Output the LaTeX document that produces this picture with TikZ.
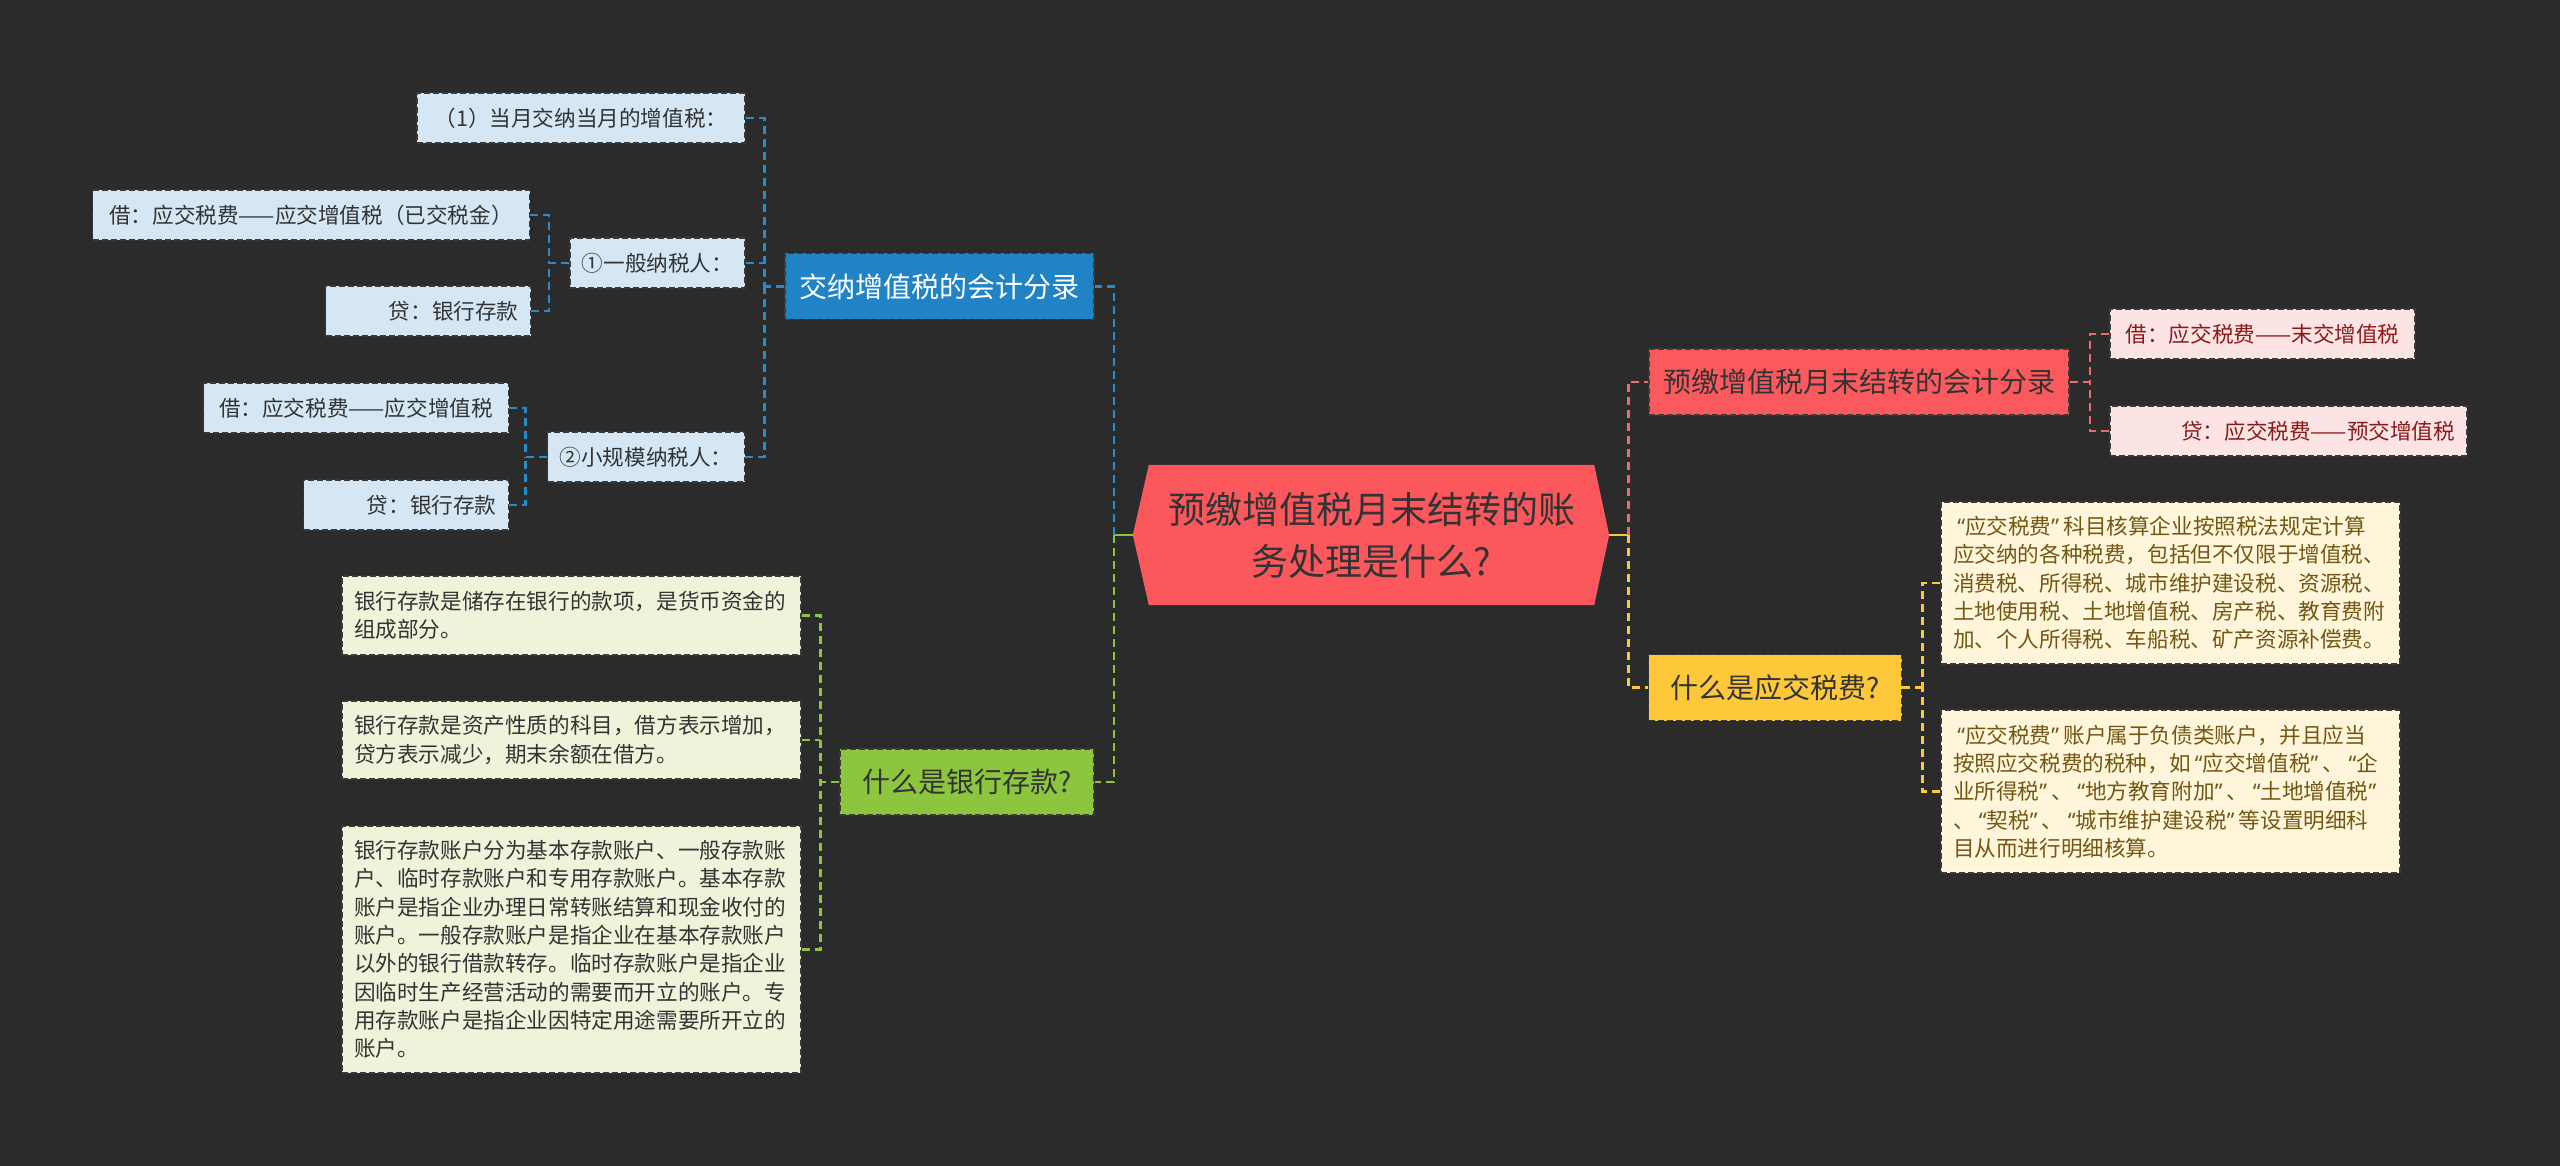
\documentclass[tikz,border=0pt]{standalone}
\usepackage{fontspec}
\newfontfamily\cjk{Noto Sans CJK SC}
\newfontfamily\quotefont{Noto Sans}
\newcommand{\lqt}{{\kern0.2em\quotefont “}}
\newcommand{\rqt}{{\quotefont ”\kern0.2em}}
\usetikzlibrary{calc,backgrounds}
\definecolor{bg}{HTML}{2B2B2B}
\definecolor{ink}{HTML}{333333}
\definecolor{rootred}{HTML}{FA585D}
\definecolor{blueM}{HTML}{2083C6}
\definecolor{blueL}{HTML}{D5E7F4}
\definecolor{blueC}{HTML}{2A8BCB}
\definecolor{greenM}{HTML}{8CC63E}
\definecolor{greenL}{HTML}{EDF4DA}
\definecolor{redM}{HTML}{FA5A5E}
\definecolor{redL}{HTML}{FCE3E4}
\definecolor{redC}{HTML}{EE6B6B}
\definecolor{redT}{HTML}{8A1B1B}
\definecolor{yellowM}{HTML}{FDC83A}
\definecolor{yellowL}{HTML}{FEF5DA}
\definecolor{yellowT}{HTML}{735815}
\definecolor{edge}{HTML}{3A3A3A}

\begin{document}
\begin{tikzpicture}[x=1pt,y=-1pt,line cap=butt,
  every node/.style={font=\cjk,text=ink},
  box/.style={rectangle,draw=edge,line width=1.6pt,dash pattern=on 6pt off 3pt,inner xsep=12pt,inner ysep=0pt},
  leaf/.style={box,minimum height=50pt,font=\cjk\fontsize{21.6}{28.3}\selectfont},
  bleaf/.style={leaf,fill=blueL},
  rleaf/.style={leaf,fill=redL,text=redT},
  para/.style={box,text width=435pt,align=left,font=\cjk\fontsize{21.6}{28.3}\selectfont},
  gleaf/.style={para,fill=greenL},
  yleaf/.style={para,fill=yellowL,text=yellowT},
  branch/.style={box,minimum height=66pt,font=\cjk\fontsize{28}{34}\selectfont},
  rootbox/.style={rectangle,inner sep=0pt,minimum width=445pt,minimum height=140pt,align=center,font=\cjk\fontsize{37}{52}\selectfont},
  conn/.style={line width=2.6pt,dash pattern=on 8pt off 5pt},
  link/.style={line width=2.6pt}]
\begin{pgfonlayer}{background}
\fill[bg] (0,0) rectangle (2560,1166);
\end{pgfonlayer}
\path[use as bounding box] (0,0) rectangle (2560,1166);

\node[rootbox] (root) at (1371.5,535) {预缴增值税月末结转的账\\务处理是什么?};
\coordinate (rootL) at ($(root.west)+(-16,0)$);
\coordinate (rootR) at ($(root.east)+(15,0)$);
\begin{pgfonlayer}{background}
\fill[rootred] (root.north west) -- (root.north east) -- (rootR) -- (root.south east) -- (root.south west) -- (rootL) -- cycle;
\end{pgfonlayer}

\node[branch,fill=blueM,text=white,minimum width=309pt] (jiao) at (939.5,286.5) {交纳增值税的会计分录};
\node[branch,fill=greenM,minimum width=254pt] (bank) at (967,782) {什么是银行存款?};
\node[branch,fill=redM,minimum width=420pt] (pre) at (1859,382) {预缴增值税月末结转的会计分录};
\node[branch,fill=yellowM,minimum width=253pt] (tax) at (1775,687.5) {什么是应交税费?};

\node[bleaf,minimum width=328pt] (b1) at (581,118) {（1）当月交纳当月的增值税：};
\node[bleaf,minimum width=175pt] (b2) at (657.5,263) {①一般纳税人：};
\node[bleaf,minimum width=437pt] (b21) at (311,215) {借：应交税费——应交增值税（已交税金）};
\node[bleaf,text width=181pt,align=right] (b22) at (428,311) {贷：银行存款};
\node[bleaf,minimum width=197pt] (b3) at (646,457) {②小规模纳税人：};
\node[bleaf,minimum width=305pt] (b31) at (356,408) {借：应交税费——应交增值税};
\node[bleaf,text width=181pt,align=right] (b32) at (406,505) {贷：银行存款};

\node[gleaf,minimum height=79pt] (g1) at (571.5,615.5) {银行存款是储存在银行的款项，是货币资金的\\组成部分。};
\node[gleaf,minimum height=78pt] (g2) at (571.5,740) {银行存款是资产性质的科目，借方表示增加，\\贷方表示减少，期末余额在借方。};
\node[gleaf,minimum height=247pt] (g3) at (571.5,949.5) {银行存款账户分为基本存款账户、一般存款账\\户、临时存款账户和专用存款账户。基本存款\\账户是指企业办理日常转账结算和现金收付的\\账户。一般存款账户是指企业在基本存款账户\\以外的银行借款转存。临时存款账户是指企业\\因临时生产经营活动的需要而开立的账户。专\\用存款账户是指企业因特定用途需要所开立的\\账户。};

\node[rleaf,minimum width=305pt] (r1) at (2262.5,334) {借：应交税费——末交增值税};
\node[rleaf,text width=333pt,align=right] (r2) at (2288.5,431) {贷：应交税费——预交增值税};

\node[yleaf,minimum height=162pt] (y1) at (2170.5,583) {\lqt 应交税费\rqt 科目核算企业按照税法规定计算\\应交纳的各种税费，包括但不仅限于增值税、\\消费税、所得税、城市维护建设税、资源税、\\土地使用税、土地增值税、房产税、教育费附\\加、个人所得税、车船税、矿产资源补偿费。};
\node[yleaf,minimum height=163pt] (y2) at (2170.5,791.5) {\lqt 应交税费\rqt 账户属于负债类账户，并且应当\\按照应交税费的税种，如\lqt 应交增值税\rqt 、\lqt 企\\业所得税\rqt 、\lqt 地方教育附加\rqt 、\lqt 土地增值税\rqt\\、\lqt 契税\rqt 、\lqt 城市维护建设税\rqt 等设置明细科\\目从而进行明细核算。};

\coordinate (lj) at ($(rootL)+(-19,0)$);
\coordinate (rj) at ($(rootR)+(19,0)$);
\draw[link,greenM] (rootL) -- (lj);
\draw[link,yellowM] (rootR) -- (rj);
\draw[conn,blueC] (lj) |- (jiao.east);
\draw[conn,greenM] (lj) |- (bank.east);
\draw[conn,redC] (rj) |- (pre.west);
\draw[conn,yellowM] (rj) |- (tax.west);

\coordinate (bj) at ($(jiao.west)+(-20,0)$);
\draw[conn,blueC] (jiao.west) -- (bj);
\draw[conn,blueC] (b1.east) -| (bj);
\draw[conn,blueC] (b3.east) -| (bj);
\draw[conn,blueC] (b2.east) -- (b2.east -| bj);

\coordinate (b2j) at ($(b2.west)+(-20,0)$);
\draw[conn,blueC] (b2.west) -- (b2j);
\draw[conn,blueC] (b21.east) -| (b2j);
\draw[conn,blueC] (b22.east) -| (b2j);

\coordinate (b3j) at ($(b3.west)+(-21,0)$);
\draw[conn,blueC] (b3.west) -- (b3j);
\draw[conn,blueC] (b31.east) -| (b3j);
\draw[conn,blueC] (b32.east) -| (b3j);

\coordinate (gj) at ($(bank.west)+(-19,0)$);
\draw[conn,greenM] (bank.west) -- (gj);
\draw[conn,greenM] (g1.east) -| (gj);
\draw[conn,greenM] (g3.east) -| (gj);
\draw[conn,greenM] (g2.east) -- (g2.east -| gj);

\coordinate (pj) at ($(pre.east)+(20,0)$);
\draw[conn,redC] (pre.east) -- (pj);
\draw[conn,redC] (r1.west) -| (pj);
\draw[conn,redC] (r2.west) -| (pj);

\coordinate (tj) at ($(tax.east)+(20,0)$);
\draw[conn,yellowM] (tax.east) -- (tj);
\draw[conn,yellowM] (y1.west) -| (tj);
\draw[conn,yellowM] (y2.west) -| (tj);

\end{tikzpicture}
\end{document}
